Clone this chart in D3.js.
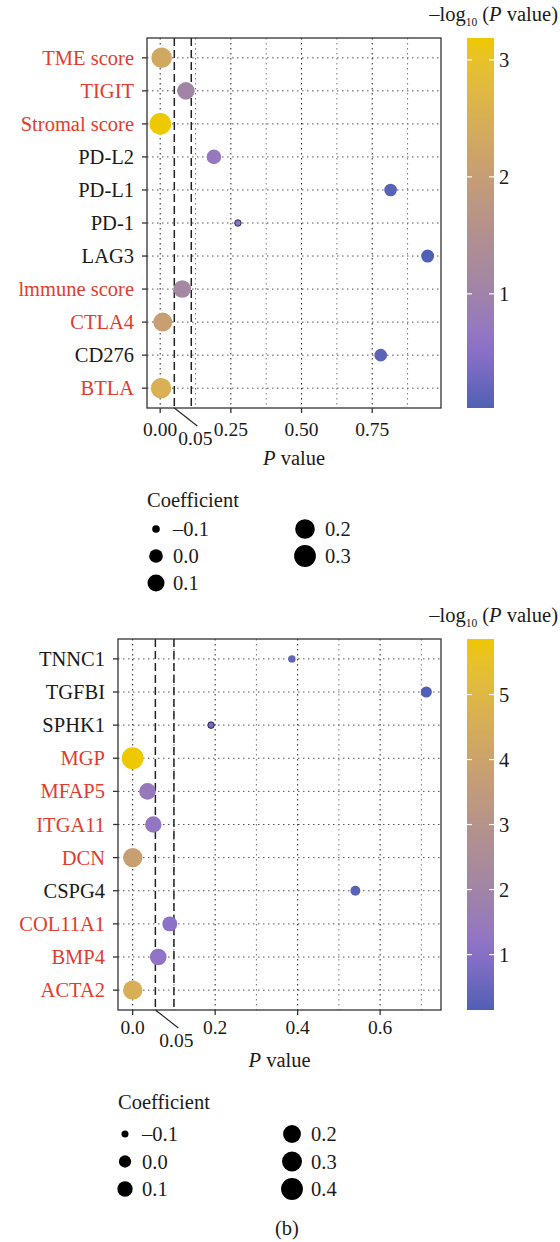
<!DOCTYPE html>
<html>
<head>
<meta charset="utf-8">
<script src="https://cdn.jsdelivr.net/npm/d3@7"></script>
<style>
  body { margin: 0; background: #fff; }
  svg text { font-family: "Liberation Serif", "DejaVu Serif", serif; fill: #1a1a1a; }
</style>
</head>
<body>
<div id="chart"></div>
<script>
// upper panel: immune checkpoints / scores
var topGenes = ['TME score', 'TIGIT', 'Stromal score', 'PD-L2', 'PD-L1', 'PD-1', 'LAG3', 'lmmune score', 'CTLA4', 'CD276', 'BTLA'];
var topP = [0.005, 0.091, 0.00065, 0.19, 0.815, 0.275, 0.946, 0.078, 0.009, 0.78, 0.003];
var topCoef = [0.24, 0.12, 0.29, 0.025, -0.025, -0.107, -0.017, 0.12, 0.175, -0.025, 0.24];
var topCoefBreaks = [-0.1, 0.0, 0.1, 0.2, 0.3];
var topColorTicks = [1, 2, 3];
var topPTicks = [0, 0.25, 0.5, 0.75];
var topCutoffs = [0.05, 0.11];

// lower panel (b): genes
var botGenes = ['TNNC1', 'TGFBI', 'SPHK1', 'MGP', 'MFAP5', 'ITGA11', 'DCN', 'CSPG4', 'COL11A1', 'BMP4', 'ACTA2'];
var botP = [0.386, 0.712, 0.19, 0.0000014, 0.036, 0.05, 0.00016, 0.54, 0.09, 0.062, 0.000025];
var botCoef = [-0.095, -0.03, -0.105, 0.41, 0.15, 0.14, 0.27, -0.055, 0.085, 0.15, 0.27];
var botCoefBreaks = [-0.1, 0.0, 0.1, 0.2, 0.3, 0.4];
var botColorTicks = [1, 2, 3, 4, 5];
var botPTicks = [0, 0.2, 0.4, 0.6];
var botCutoffs = [0.055, 0.1];

var palette = ['#5060b4', '#8f72ca', '#a085a6', '#b6928a', '#cba26c', '#dfb745', '#eec800'];
var paletteAt = [0, 0.17, 0.32, 0.5, 0.67, 0.85, 1];
var FS = 20.5;

var svg = d3.select('#chart').append('svg')
  .attr('width', 560).attr('height', 1242)
  .style('background', '#fff');

var fmtCoef = function (v) { return (v < 0 ? '\u2013' : '') + d3.format('.1f')(Math.abs(v)); };

function drawPanel(o) {
  var box = o.box;
  var g = svg.append('g');
  var nlp = o.p.map(function (p) { return -Math.log10(p); });

  var ext = d3.extent(o.p), pad = (ext[1] - ext[0]) * 0.05;
  var x = d3.scaleLinear().domain([ext[0] - pad, ext[1] + pad]).range([box.left, box.right]);
  var y = d3.scalePoint().domain(o.genes).range([box.top, box.bottom]).padding(0.6);

  var cExt = d3.extent(nlp);
  var color = d3.scaleLinear()
    .domain(paletteAt.map(function (t) { return cExt[0] + t * (cExt[1] - cExt[0]); }))
    .range(palette).interpolate(d3.interpolateLab);
  var size = d3.scalePow().exponent(0.5)
    .domain([0, o.sizeDomain[1] - o.sizeDomain[0]]).range(o.sizeRange);
  var radius = function (c) { return size(c - o.sizeDomain[0]); };

  // grid
  var step = o.ticks[1] - o.ticks[0];
  var minor = o.ticks.map(function (t) { return t + step / 2; })
    .filter(function (t) { return t < x.domain()[1]; });
  g.selectAll('.hgrid').data(o.genes).enter().append('line')
    .attr('x1', box.left).attr('x2', box.right)
    .attr('y1', function (d) { return y(d); }).attr('y2', function (d) { return y(d); })
    .attr('stroke', '#555').attr('stroke-width', 1).attr('stroke-dasharray', '1.5,3.5');
  g.selectAll('.vminor').data(minor).enter().append('line')
    .attr('x1', function (d) { return x(d); }).attr('x2', function (d) { return x(d); })
    .attr('y1', box.top).attr('y2', box.bottom)
    .attr('stroke', '#777').attr('stroke-width', 1).attr('stroke-dasharray', '1.5,3.5');
  g.selectAll('.vmajor').data(o.ticks).enter().append('line')
    .attr('x1', function (d) { return x(d); }).attr('x2', function (d) { return x(d); })
    .attr('y1', box.top).attr('y2', box.bottom)
    .attr('stroke', '#222').attr('stroke-width', 1).attr('stroke-dasharray', '1.5,3.5');

  // cutoff lines
  g.selectAll('.cut').data(o.cutoffs).enter().append('line')
    .attr('x1', function (d) { return x(d); }).attr('x2', function (d) { return x(d); })
    .attr('y1', box.top).attr('y2', box.bottom)
    .attr('stroke', '#222').attr('stroke-width', 1.5).attr('stroke-dasharray', '8,4');

  // points
  var rows = o.genes.map(function (d, i) { return { gene: d, p: o.p[i], nlp: nlp[i], coef: o.coef[i] }; });
  g.selectAll('circle.pt').data(rows).enter().append('circle')
    .attr('cx', function (d) { return x(d.p); })
    .attr('cy', function (d) { return y(d.gene); })
    .attr('r', function (d) { return radius(d.coef); })
    .attr('fill', function (d) { return color(d.nlp); })
    .attr('stroke', function (d) { return radius(d.coef) < 3.5 ? '#1c1c3a' : 'none'; })
    .attr('stroke-width', 0.9);

  // border
  g.append('rect').attr('x', box.left).attr('y', box.top)
    .attr('width', box.right - box.left).attr('height', box.bottom - box.top)
    .attr('fill', 'none').attr('stroke', '#333').attr('stroke-width', 1.3);

  // y axis
  g.selectAll('.ytick').data(o.genes).enter().append('line')
    .attr('x1', box.left - 5).attr('x2', box.left)
    .attr('y1', function (d) { return y(d); }).attr('y2', function (d) { return y(d); })
    .attr('stroke', '#333').attr('stroke-width', 1.3);
  g.selectAll('.ylab').data(rows).enter().append('text')
    .attr('x', box.left - 13).attr('y', function (d) { return y(d.gene) + 7; })
    .attr('text-anchor', 'end').attr('font-size', FS)
    .style('fill', function (d) { return d.p < 0.1 ? '#e33b2e' : '#1a1a1a'; })
    .text(function (d) { return d.gene; });

  // x axis
  g.selectAll('.xtick').data(o.ticks).enter().append('line')
    .attr('x1', function (d) { return x(d); }).attr('x2', function (d) { return x(d); })
    .attr('y1', box.bottom).attr('y2', box.bottom + 5)
    .attr('stroke', '#333').attr('stroke-width', 1.3);
  g.selectAll('.xlab').data(o.ticks).enter().append('text')
    .attr('x', function (d) { return x(d); }).attr('y', box.bottom + o.tickGap)
    .attr('text-anchor', 'middle').attr('font-size', 19.5)
    .text(function (d) { return d3.format(o.tickFmt)(d); });

  var c0 = x(o.cutoffs[0]);
  g.append('line').attr('x1', c0).attr('y1', box.bottom).attr('x2', c0 + 23).attr('y2', box.bottom + 18)
    .attr('stroke', '#222').attr('stroke-width', 1.1);
  g.append('text').attr('x', c0 + 21).attr('y', box.bottom + 37)
    .attr('text-anchor', 'middle').attr('font-size', 19.5).text('0.05');

  var xt = g.append('text').attr('x', (box.left + box.right) / 2).attr('y', box.bottom + 57)
    .attr('text-anchor', 'middle').attr('font-size', FS);
  xt.append('tspan').attr('font-style', 'italic').text('P');
  xt.append('tspan').text(' value');

  // colour bar
  var cb = { x: 467, w: 27 };
  var cy = d3.scaleLinear().domain(cExt).range([box.bottom, box.top]);
  var gid = 'grad' + o.id;
  var grad = svg.append('defs').append('linearGradient').attr('id', gid)
    .attr('x1', 0).attr('y1', 1).attr('x2', 0).attr('y2', 0);
  d3.range(0, 1.0001, 0.05).forEach(function (t) {
    grad.append('stop').attr('offset', t)
      .attr('stop-color', color(cExt[0] + t * (cExt[1] - cExt[0])));
  });
  g.append('rect').attr('x', cb.x).attr('y', box.top).attr('width', cb.w)
    .attr('height', box.bottom - box.top).attr('fill', 'url(#' + gid + ')');
  o.colorTicks.forEach(function (t) {
    g.append('line').attr('x1', cb.x).attr('x2', cb.x + 5).attr('y1', cy(t)).attr('y2', cy(t))
      .attr('stroke', '#fff').attr('stroke-width', 1.2);
    g.append('line').attr('x1', cb.x + cb.w - 5).attr('x2', cb.x + cb.w).attr('y1', cy(t)).attr('y2', cy(t))
      .attr('stroke', '#fff').attr('stroke-width', 1.2);
    g.append('text').attr('x', cb.x + cb.w + 5).attr('y', cy(t) + 7)
      .attr('font-size', FS).text(t);
  });
  var ct = g.append('text').attr('x', 558).attr('y', box.top - 17)
    .attr('text-anchor', 'end').attr('font-size', FS);
  ct.append('tspan').text('\u2013log');
  ct.append('tspan').attr('font-size', 11.5).attr('dy', 5).text('10');
  ct.append('tspan').attr('dy', -5).text(' (');
  ct.append('tspan').attr('font-style', 'italic').text('P');
  ct.append('tspan').text(' value)');

  // size legend
  var lg = o.legend;
  g.append('text').attr('x', lg.x).attr('y', lg.titleY).attr('font-size', FS).text('Coefficient');
  o.breaks.forEach(function (b, i) {
    var col = i < 3 ? 0 : 1, row = i % 3;
    var cx = col ? lg.dot2 : lg.dot1, yy = lg.rowY + row * lg.rowStep;
    g.append('circle').attr('cx', cx).attr('cy', yy).attr('r', radius(b)).attr('fill', '#000');
    g.append('text').attr('x', col ? lg.txt2 : lg.txt1).attr('y', yy + 7)
      .attr('font-size', FS).text(fmtCoef(b));
  });
}

drawPanel({
  id: 'a', genes: topGenes, p: topP, coef: topCoef, breaks: topCoefBreaks,
  colorTicks: topColorTicks, ticks: topPTicks, cutoffs: topCutoffs, tickFmt: '.2f', tickGap: 28,
  box: { left: 147, right: 441, top: 38, bottom: 408 },
  sizeDomain: [-0.11, 0.33], sizeRange: [2.5, 11.2],
  legend: { x: 147, titleY: 507, rowY: 529, rowStep: 27, dot1: 156, txt1: 173, dot2: 305, txt2: 325 }
});

drawPanel({
  id: 'b', genes: botGenes, p: botP, coef: botCoef, breaks: botCoefBreaks,
  colorTicks: botColorTicks, ticks: botPTicks, cutoffs: botCutoffs, tickFmt: '.1f', tickGap: 24,
  box: { left: 118, right: 441, top: 639, bottom: 1010 },
  sizeDomain: [-0.12, 0.42], sizeRange: [1.7, 11.1],
  legend: { x: 118, titleY: 1109, rowY: 1134, rowStep: 27.5, dot1: 125, txt1: 142, dot2: 292, txt2: 311 }
});

svg.append('text').attr('x', 287).attr('y', 1235).attr('text-anchor', 'middle')
  .attr('font-size', FS).text('(b)');
</script>
</body>
</html>
